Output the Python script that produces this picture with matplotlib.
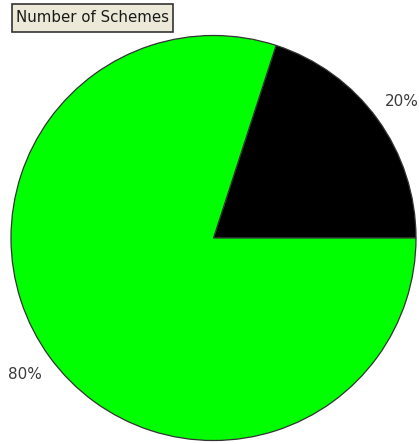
import matplotlib.pyplot as plt
from matplotlib.patches import Rectangle

labels = ["Black", "Green"]
shares = [20, 80]
colors = ["#000000", "#00ff00"]
title = "Number of Schemes"

fig = plt.figure(figsize=(4.19, 4.44), dpi=100)
ax = fig.add_axes([0, 0, 1, 1])
ax.set_xlim(0, 419)
ax.set_ylim(0, 444)
ax.set_aspect("equal")
ax.axis("off")

wedges, texts, pcts = ax.pie(
    shares, colors=colors, startangle=0, counterclock=True,
    center=(213.5, 206), radius=202.5,
    autopct="%d%%", pctdistance=1.15,
    wedgeprops=dict(edgecolor="#333333", linewidth=0.9),
    textprops=dict(fontsize=11, color="#3a3a3a"),
)
ax.set_xlim(0, 419)
ax.set_ylim(0, 444)

# legend-style caption box in the top-left corner
ax.add_patch(Rectangle((12, 412), 161, 28, facecolor="#ece9d8",
                       edgecolor="#333333", linewidth=1.2, zorder=5))
ax.text(92.5, 426, title, fontsize=10.8, color="#1a1a1a", va="center",
        ha="center", zorder=6)

fig.savefig("out.png", dpi=100)
